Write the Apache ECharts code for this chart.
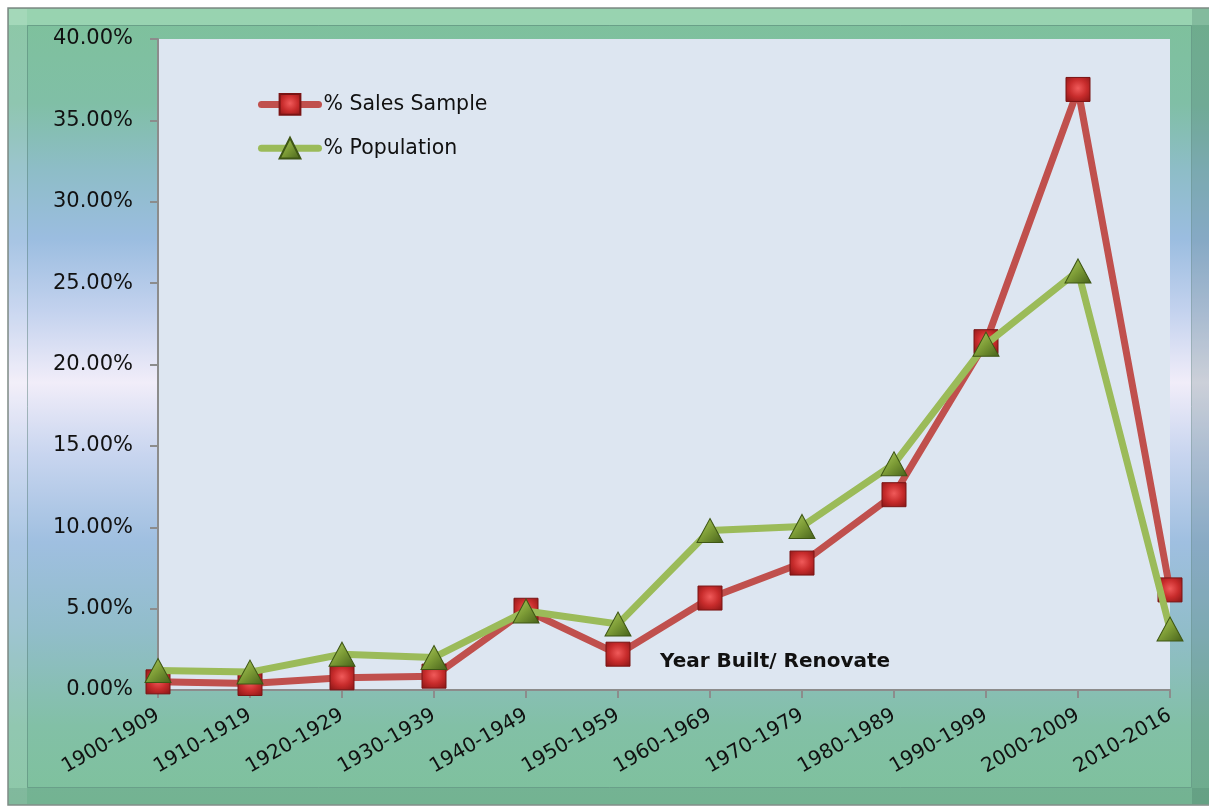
<!DOCTYPE html>
<html>
<head>
<meta charset="utf-8">
<script src="https://cdn.jsdelivr.net/npm/echarts@6/dist/echarts.min.js"></script>
<style>html,body{margin:0;padding:0;background:#fff;}#c{width:1209px;height:807px;}</style>
</head>
<body>
<div id="c"></div>
<script>
var categories = ['1900-1909','1910-1919','1920-1929','1930-1939','1940-1949','1950-1959','1960-1969','1970-1979','1980-1989','1990-1999','2000-2009','2010-2016'];
var salesSample = [0.50, 0.40, 0.75, 0.85, 4.90, 2.20, 5.65, 7.80, 12.00, 21.40, 36.90, 6.15];
var population = [1.20, 1.10, 2.20, 2.00, 4.85, 4.05, 9.80, 10.05, 13.90, 21.25, 25.75, 3.75];
var seriesNames = ['% Sales Sample', '% Population'];
var axisTitle = 'Year Built/ Renovate';

var chart = echarts.init(document.getElementById('c'));
var frameGrad = new echarts.graphic.LinearGradient(0, 0, 0, 1, [
  {offset: 0, color: '#7ec19b'},
  {offset: 0.12, color: '#80bfa6'},
  {offset: 0.2, color: '#8dbdc6'},
  {offset: 0.29, color: '#9bbde0'},
  {offset: 0.38, color: '#c3d2ee'},
  {offset: 0.47, color: '#f1edf9'},
  {offset: 0.56, color: '#c8d5ef'},
  {offset: 0.67, color: '#9fbfe0'},
  {offset: 0.78, color: '#91bdca'},
  {offset: 0.9, color: '#82c0a6'},
  {offset: 1, color: '#7ec19c'}
]);
var redSym = new echarts.graphic.RadialGradient(0.5, 0.45, 0.7, [
  {offset: 0, color: '#f05a5a'},
  {offset: 0.5, color: '#c82c2c'},
  {offset: 1, color: '#8a1616'}
]);
var greenSym = new echarts.graphic.LinearGradient(0, 0, 1, 1, [
  {offset: 0, color: '#b2d066'},
  {offset: 0.5, color: '#7d9c36'},
  {offset: 1, color: '#45601a'}
]);
chart.setOption({
  backgroundColor: '#ffffff',
  animation: false,
  graphic: [
    {type: 'rect', z: -10, shape: {x: 8, y: 8, width: 1203, height: 797}, style: {fill: frameGrad, stroke: '#7f8a85', lineWidth: 1.5}},
    {type: 'rect', z: -9, shape: {x: 9, y: 9, width: 1201, height: 16}, style: {fill: 'rgba(200,245,215,0.35)'}},
    {type: 'rect', z: -9, shape: {x: 9, y: 9, width: 18, height: 795}, style: {fill: 'rgba(255,255,255,0.12)'}},
    {type: 'rect', z: -9, shape: {x: 1192, y: 9, width: 18, height: 795}, style: {fill: 'rgba(40,80,70,0.18)'}},
    {type: 'rect', z: -9, shape: {x: 9, y: 788, width: 1201, height: 16}, style: {fill: 'rgba(40,80,70,0.12)'}},
    {type: 'rect', z: -8, shape: {x: 27.5, y: 25.5, width: 1164, height: 762}, style: {fill: 'none', stroke: 'rgba(80,120,110,0.45)', lineWidth: 1}}
  ],
  title: {
    text: axisTitle,
    left: 655, top: 647,
    textStyle: {fontFamily: 'DejaVu Sans', fontSize: 20, fontWeight: 'bold', color: '#111'}
  },
  legend: {
    orient: 'vertical',
    left: 253, top: 88,
    itemWidth: 57, itemHeight: 26, itemGap: 21,
    textStyle: {fontFamily: 'DejaVu Sans', fontSize: 20.5, color: '#111'},
    data: [
      {name: seriesNames[0], itemStyle: {}, lineStyle: {width: 7, cap: 'round'}},
      {name: seriesNames[1], itemStyle: {}, lineStyle: {width: 7, cap: 'round'}}
    ]
  },
  grid: {
    left: 158, top: 39, right: 39, bottom: 117,
    show: true, backgroundColor: '#dde6f1', borderWidth: 0
  },
  xAxis: {
    type: 'category',
    data: categories,
    boundaryGap: false,
    axisLine: {lineStyle: {color: '#8c8c8c', width: 2}},
    axisTick: {show: true, length: 8, lineStyle: {color: '#8c8c8c', width: 2}},
    axisLabel: {rotate: 30, margin: 24, fontFamily: 'DejaVu Sans', fontSize: 20, color: '#111', interval: 0},
    splitLine: {show: false}
  },
  yAxis: {
    type: 'value',
    min: 0, max: 40, interval: 5,
    axisLine: {show: true, lineStyle: {color: '#8c8c8c', width: 2}},
    axisTick: {show: true, length: 8, lineStyle: {color: '#8c8c8c', width: 2}},
    axisLabel: {margin: 25, fontFamily: 'DejaVu Sans', fontSize: 21, color: '#111', formatter: function (v) { return v.toFixed(2) + '%'; }},
    splitLine: {show: false}
  },
  series: [
    {
      name: seriesNames[0], type: 'line', data: salesSample,
      symbol: 'rect', symbolSize: 24,
      lineStyle: {color: '#c0504d', width: 7},
      itemStyle: {color: redSym, borderColor: '#7a1414', borderWidth: 1},
      z: 2
    },
    {
      name: seriesNames[1], type: 'line', data: population,
      symbol: 'triangle', symbolSize: [26, 24],
      lineStyle: {color: '#9bbb59', width: 7},
      itemStyle: {color: greenSym, borderColor: '#3e5614', borderWidth: 1},
      z: 3
    }
  ]
});
</script>
</body>
</html>
